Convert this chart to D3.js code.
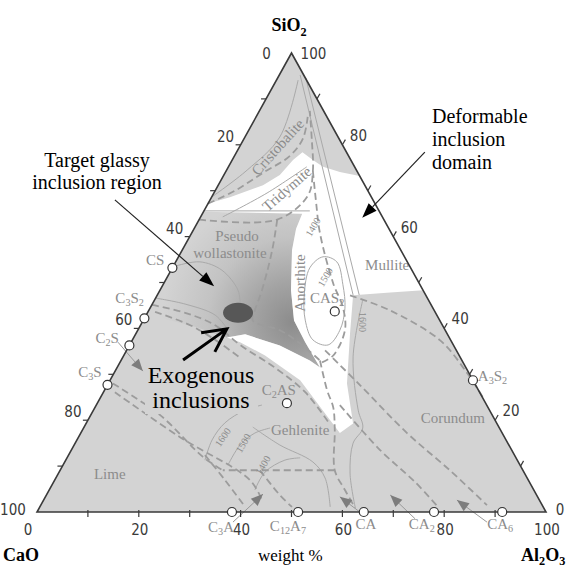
<!DOCTYPE html>
<html lang="en">
<head>
  <meta charset="UTF-8" />
  <title>CaO-SiO2-Al2O3 inclusion diagram</title>
  <script src="https://d3js.org/d3.v7.min.js"></script>
  <style>
    body { margin: 0; background: #fff; }
  </style>
</head>
<body>
  <svg id="chart" width="573" height="571"></svg>
  <script>
    // every composition is [Al2O3, SiO2] in wt%, CaO is the rest
    const ticks = [0, 10, 20, 30, 40, 50, 60, 70, 80, 90, 100];
    const tickLabels = [0, 20, 40, 60, 80, 100];

    const compounds = [
      { name: 'CS', c: [0, 53.2] },
      { name: 'C3S2', c: [0, 42.2] },
      { name: 'C2S', c: [0, 36.3] },
      { name: 'C3S', c: [0, 27.7] },
      { name: 'C3A', c: [38.3, 0] },
      { name: 'C12A7', c: [51.3, 0] },
      { name: 'CA', c: [64.2, 0] },
      { name: 'CA2', c: [78.0, 0] },
      { name: 'CA6', c: [91.4, 0] },
      { name: 'A3S2', c: [71.3, 28.7] },
      { name: 'CAS2', c: [36.65, 43.7] },
      { name: 'C2AS', c: [37.25, 23.7] }
    ];

    const compoundLabels = [
      { t: 'CS', c: [-4.25, 54.9] },
      { t: 'C3S2', c: [-5.1, 46.6] },
      { t: 'C2S', c: [-5.2, 38.0] },
      { t: 'C3S', c: [-4.85, 30.5] },
      { t: 'C3A', c: [37.8, -3.3] },
      { t: 'C12A7', c: [50.85, -3.1] },
      { t: 'CA', c: [65.9, -2.6] },
      { t: 'CA2', c: [76.9, -2.6] },
      { t: 'CA6', c: [92.3, -2.6] },
      { t: 'A3S2', c: [71.8, 29.6], anchor: 'start' },
      { t: 'CAS2', c: [33.7, 46.6] },
      { t: 'C2AS', c: [34.2, 26.6] }
    ];

    const phaseLabels = [
      { t: 'Cristobalite', c: [7.55, 79.5], r: -48 },
      { t: 'Tridymite', c: [13.9, 70.4], r: -41 },
      { t: 'Pseudo', c: [9.25, 60.1], r: 0 },
      { t: 'wollastonite', c: [9.7, 56.4], r: 0 },
      { t: 'Anorthite', c: [26.75, 49.9], r: -90 },
      { t: 'Mullite', c: [41.9, 53.8], r: 0 },
      { t: 'Corundum', c: [71.45, 20.5], r: 0 },
      { t: 'Gehlenite', c: [42.75, 17.9], r: 0 },
      { t: 'Lime', c: [10.15, 8.3], r: 0 }
    ];

    const isothermLabels = [
      { t: '1400', c: [23.15, 62.1], r: -60 },
      { t: '1500', c: [31, 51.2], r: -60 },
      { t: '1600', c: [43.3, 41.4], r: 90 },
      { t: '1600', c: [28.35, 16.3], r: -55 },
      { t: '1500', c: [33, 15], r: -60 },
      { t: '1400', c: [39.3, 10.2], r: -60 }
    ];

    // deformable inclusion domain (white)
    const deformable = [[0, 67.2], [3.6, 68.6], [8.8, 71.2], [11, 73.4], [11.95, 76.7], [12.95, 78.4],
      [15.85, 76.7], [18.6, 75.2], [22.45, 74.1], [26.8, 73.2], [51.7, 48.3], [45.5, 47.8], [38.5, 47.2],
      [42.05, 38.9], [46.9, 28.0], [52.45, 19.3], [50.9, 17.2], [47.6, 20], [37.35, 28.7], [27.75, 34.1],
      [21.4, 37], [18.3, 38], [21.55, 38.7], [29.55, 36.3], [37.1, 33], [39.85, 31.5], [34.2, 37],
      [29.65, 41.7], [25.75, 48.3], [21.6, 57], [20.05, 61.7], [19.6, 65], [0, 65.4]];

    // target glassy region (shaded)
    const glassy = [[0, 65.4], [19.6, 65], [20.05, 61.7], [21.6, 57], [25.75, 48.3], [29.65, 41.7],
      [34.2, 37], [39.85, 31.5], [37.1, 33], [29.55, 36.3], [21.55, 38.7], [18.3, 38], [9.75, 40.7], [0, 43]];

    const exogenous = { c: [17.8, 43.4] };

    const boundaries = [
      [[0, 67.2], [3.9, 70], [7.45, 73.9], [10.9, 77.6], [11.55, 81.5], [10.05, 86.3]],
      [[0, 63.7], [15.35, 63.7], [18.75, 68.9], [17.05, 74.3], [13.55, 80.9], [9.9, 87.4]],
      [[15.35, 63.7], [17.7, 57], [20.05, 48.3], [20.85, 43.9], [21.55, 41.7], [27.9, 39.6], [33.35, 36.7], [39.1, 33]],
      [[39.1, 33], [43.75, 26.5], [46.8, 22.8], [49.6, 17.8], [53.95, 9.1], [58.1, 4.8], [62.05, 0.9]],
      [[53.95, 9.1], [31.95, 9.1]],
      [[0.9, 28], [13.65, 21.1], [26.6, 12], [31.95, 9.1]],
      [[2.25, 26.1], [19.95, 16.3], [38.3, 7], [42.9, 2.6]],
      [[37.9, 47.2], [47.45, 43.9], [60.5, 37.4], [68.65, 30.9], [75.1, 25]],
      [[39, 35.2], [49.7, 27.6], [64.1, 17.2], [76.55, 9.1], [87.65, 1.5]],
      [[47.85, 23.3], [60.65, 13.5], [71.05, 6.5], [78.25, 1.1]],
      [[26.8, 12.4], [33.4, 7], [40.35, 1.1]],
      [[39.25, 9.1], [45.85, 3.7], [49.55, 1.1]],
      [[17.05, 74.3], [20.9, 67.8], [25.25, 60.7], [33.3, 49.8], [37.8, 44.6], [40.7, 39.6], [41.15, 34.1], [39.7, 32.6]],
      [[0.05, 45.1], [7.4, 43.4], [14.65, 40.7], [21.7, 36.4], [31.1, 31.4], [39.65, 26.1], [48.1, 19]],
      [[1.4, 43.6], [9.75, 40.7], [16.25, 37.5], [23.1, 33.6]]
    ];

    const isotherms = [
      [[4.1, 95.2], [38.45, 47.3]],
      [[5.5, 94.6], [39.65, 47.3]],
      [[0, 68.6], [4.05, 74.5], [6.85, 81.7], [4.25, 94.1]],
      [[0, 65.6], [20.8, 65.6]],
      [[4.35, 64.3], [10.45, 69.5], [15.4, 75.2]],
      [[40.9, 46.2], [45.2, 33.8], [52, 22.2], [54.85, 18.3], [54.6, 15], [57.25, 8.5], [61.95, 1.1]],
      [[0.5, 53.6], [4.75, 54.5], [9.95, 52.7], [15.35, 48.3], [17.35, 45.1]],
      [[0, 46.6], [6.45, 45.3], [13.55, 42.9], [17.65, 39.7]],
      [[27.35, 11.3], [26.55, 15.7], [27.2, 19.4], [29.8, 22.2], [32.55, 23.3]],
      [[32.4, 10.2], [32.6, 14.6], [34.2, 17.2], [36.65, 18.3]],
      [[40.4, 4.8], [40.45, 8.7], [43.05, 11.3], [45.8, 11.8]],
      [[33.15, 18.5], [40.4, 14.6], [48.75, 10.9], [52.9, 7.4], [57.05, 1.1]]
    ];

    const loop1500 = [[27, 53.2], [28.4, 55.6], [31.65, 54.5], [35.35, 49.5], [38.3, 44.4], [39.7, 39.6],
      [39, 36.4], [35.45, 37.5], [31.8, 41.8], [28.85, 47.3]];

    const crystArrows = [
      { from: [39.6, -2.2], to: [42.45, 3.9] },
      { from: [64.1, -0.4], to: [57.85, 3.3] },
      { from: [75.05, -1.5], to: [67.55, 3.7] },
      { from: [89.5, -2.2], to: [81.2, 2.6] },
      { from: [-2.6, 37.0], to: [5.45, 30.7] }
    ];

    const notes = [
      { lines: ['Target glassy', 'inclusion region'], x: 97, y: 167, anchor: 'middle', size: 20, gap: 22,
        from: [-18.7, 68], to: [10.2, 49.2] },
      { lines: ['Deformable', 'inclusion', 'domain'], x: 432, y: 123, anchor: 'start', size: 20, gap: 23,
        from: [37, 78.4], to: [31.85, 64.1] }
    ];

    const svg = d3.select('#chart');
    const serif = '"Liberation Serif", "Times New Roman", serif';
    const narrow = '"Liberation Sans Narrow", "DejaVu Sans Condensed", sans-serif';
    const baseGray = '#d3d3d3';

    const sx = d3.scaleLinear().domain([0, 100]).range([37, 546]);
    const sy = d3.scaleLinear().domain([0, 100]).range([512, 53]);
    const px = ([al, si]) => [sx(al + si / 2), sy(si)];

    const poly = d3.line().x(d => px(d)[0]).y(d => px(d)[1]).curve(d3.curveLinearClosed);
    const curve = d3.line().x(d => px(d)[0]).y(d => px(d)[1]).curve(d3.curveCatmullRom.alpha(0.5));
    const loop = d3.line().x(d => px(d)[0]).y(d => px(d)[1]).curve(d3.curveCatmullRomClosed.alpha(0.5));

    function rich(text, str, size, shift = 0.28) {
      let sub = false;
      str.match(/\d+|\D+/g).forEach(p => {
        const ts = text.append('tspan').text(p);
        if (/\d/.test(p)) {
          ts.attr('font-size', size * 0.68).attr('dy', size * shift);
          sub = true;
        } else if (sub) {
          ts.attr('dy', -size * shift);
          sub = false;
        }
      });
    }

    const defs = svg.append('defs');
    const grad = defs.append('radialGradient').attr('id', 'glassy')
      .attr('gradientUnits', 'userSpaceOnUse')
      .attr('cx', 292).attr('cy', 322).attr('r', 130);
    [[0, '#8c8c8c'], [0.3, '#a3a3a3'], [0.65, '#c3c3c3'], [1, baseGray]].forEach(([o, c]) => {
      grad.append('stop').attr('offset', o).attr('stop-color', c);
    });

    const corners = [[0, 0], [100, 0], [0, 100]];
    svg.append('path').attr('d', poly(corners)).attr('fill', baseGray);
    svg.append('path').attr('d', poly(glassy)).attr('fill', 'url(#glassy)');
    svg.append('path').attr('d', poly(deformable)).attr('fill', '#fff');

    svg.append('g').selectAll('path').data(isotherms).join('path')
      .attr('d', curve).attr('fill', 'none').attr('stroke', '#a9a9a9').attr('stroke-width', 1);
    svg.append('path').attr('d', loop(loop1500)).attr('fill', 'none')
      .attr('stroke', '#a9a9a9').attr('stroke-width', 1);
    svg.append('g').selectAll('path').data(boundaries).join('path')
      .attr('d', curve).attr('fill', 'none').attr('stroke', '#9c9c9c')
      .attr('stroke-width', 1.8).attr('stroke-dasharray', '7,4');

    // crystallisation arrows
    const ag = svg.append('g');
    crystArrows.forEach(a => {
      const [x1, y1] = px(a.from), [x2, y2] = px(a.to);
      const ang = Math.atan2(y2 - y1, x2 - x1);
      ag.append('line').attr('x1', x1).attr('y1', y1).attr('x2', x2).attr('y2', y2)
        .attr('stroke', '#999').attr('stroke-width', 1);
      const L = 12, W = 5;
      const bx = x2 - L * Math.cos(ang), by = y2 - L * Math.sin(ang);
      ag.append('path')
        .attr('d', `M${x2},${y2}L${bx - W * Math.sin(ang)},${by + W * Math.cos(ang)}L${bx + W * Math.sin(ang)},${by - W * Math.cos(ang)}Z`)
        .attr('fill', '#7d7d7d');
    });

    // exogenous inclusions
    const [ex, ey] = px(exogenous.c);
    svg.append('ellipse').attr('cx', ex).attr('cy', ey).attr('rx', 15).attr('ry', 10)
      .attr('fill', '#575757');

    // phase field names
    const lg = svg.append('g').attr('font-family', serif).attr('fill', '#8c8c8c');
    phaseLabels.forEach(d => {
      const [x, y] = px(d.c);
      lg.append('text').attr('transform', `translate(${x},${y}) rotate(${d.r})`)
        .attr('text-anchor', 'middle').attr('dominant-baseline', 'central')
        .attr('font-size', 15).text(d.t);
    });
    compoundLabels.forEach(d => {
      const [x, y] = px(d.c);
      const t = lg.append('text').attr('x', x).attr('y', y)
        .attr('text-anchor', d.anchor || 'middle').attr('dominant-baseline', 'central')
        .attr('font-size', 15);
      rich(t, d.t, 15);
    });
    isothermLabels.forEach(d => {
      const [x, y] = px(d.c);
      lg.append('text').attr('transform', `translate(${x},${y}) rotate(${d.r})`)
        .attr('text-anchor', 'middle').attr('dominant-baseline', 'central')
        .attr('font-size', 10).text(d.t);
    });

    // box behind the exogenous label
    svg.append('rect').attr('x', 145).attr('y', 362).attr('width', 113).attr('height', 52)
      .attr('fill', baseGray);
    svg.append('g').attr('font-family', serif).attr('font-size', 24).attr('text-anchor', 'middle')
      .selectAll('text').data(['Exogenous', 'inclusions']).join('text')
      .attr('x', 201).attr('y', (d, i) => 383 + i * 25).text(d => d);

    // triangle frame and ticks
    svg.append('path').attr('d', poly(corners)).attr('fill', 'none')
      .attr('stroke', '#3a3a3a').attr('stroke-width', 1.6);
    const tg = svg.append('g').attr('stroke', '#3a3a3a').attr('stroke-width', 1.2);
    ticks.slice(1, -1).forEach(v => {
      const [lx, ly] = px([0, 100 - v]);
      tg.append('line').attr('x1', lx).attr('y1', ly).attr('x2', lx - 5).attr('y2', ly);
      const [rx, ry] = px([100 - v, v]);
      tg.append('line').attr('x1', rx).attr('y1', ry).attr('x2', rx + 3).attr('y2', ry - 5.2);
      const [bx, by] = px([v, 0]);
      tg.append('line').attr('x1', bx).attr('y1', by - 2).attr('x2', bx).attr('y2', by + 5);
    });

    const kg = svg.append('g').attr('font-family', narrow).attr('font-size', 15)
      .attr('fill', '#3a3a3a').attr('text-anchor', 'middle').attr('dominant-baseline', 'central');
    tickLabels.forEach(v => {
      const [lx, ly] = px([0, 100 - v]);
      const lo = v === 0 ? [-25, 1] : v === 100 ? [-24, -2] : [-15, -8];
      kg.append('text').attr('x', lx + lo[0]).attr('y', ly + lo[1]).text(v);
      const [rx, ry] = px([100 - v, v]);
      const ro = v === 100 ? [22, 1] : v === 0 ? [14, -2] : [16, -9];
      kg.append('text').attr('x', rx + ro[0]).attr('y', ry + ro[1]).text(v);
      const [bx, by] = px([v, 0]);
      kg.append('text').attr('x', bx + (v === 0 ? -9 : 1)).attr('y', by + 18).text(v);
    });

    // compound points
    svg.append('g').selectAll('circle').data(compounds).join('circle')
      .attr('cx', d => px(d.c)[0]).attr('cy', d => px(d.c)[1]).attr('r', 4.5)
      .attr('fill', '#fff').attr('stroke', '#333').attr('stroke-width', 1.2);

    // annotations
    const ng = svg.append('g').attr('font-family', serif).attr('fill', '#000');
    notes.forEach(n => {
      n.lines.forEach((s, i) => {
        ng.append('text').attr('x', n.x).attr('y', n.y + i * n.gap)
          .attr('text-anchor', n.anchor).attr('font-size', n.size).text(s);
      });
      const [x1, y1] = px(n.from), [x2, y2] = px(n.to);
      const ang = Math.atan2(y2 - y1, x2 - x1);
      const L = 15, W = 5.5;
      const bx = x2 - L * Math.cos(ang), by = y2 - L * Math.sin(ang);
      ng.append('line').attr('x1', x1).attr('y1', y1).attr('x2', bx).attr('y2', by)
        .attr('stroke', '#222').attr('stroke-width', 1.2);
      ng.append('path')
        .attr('d', `M${x2},${y2}L${bx - W * Math.sin(ang)},${by + W * Math.cos(ang)}L${bx + W * Math.sin(ang)},${by - W * Math.cos(ang)}Z`)
        .attr('fill', '#000');
    });

    const exoArrow = { from: [12.15, 33.1], to: [17.35, 39.9] };
    const [ax1, ay1] = px(exoArrow.from), [ax2, ay2] = px(exoArrow.to);
    const back = Math.atan2(ay1 - ay2, ax1 - ax2);
    const wing = s => [ax2 + 26 * Math.cos(back + s), ay2 + 26 * Math.sin(back + s)];
    const w1 = wing(0.47), w2 = wing(-0.47);
    svg.append('path')
      .attr('d', `M${ax1},${ay1}L${ax2},${ay2}M${w1[0]},${w1[1]}L${ax2},${ay2}L${w2[0]},${w2[1]}`)
      .attr('fill', 'none').attr('stroke', '#000').attr('stroke-width', 3)
      .attr('stroke-linejoin', 'miter');

    // vertex names
    const vg = svg.append('g').attr('font-family', serif).attr('font-weight', 'bold').attr('font-size', 18);
    rich(vg.append('text').attr('x', 289).attr('y', 31).attr('text-anchor', 'middle'), 'SiO2', 18);
    vg.append('text').attr('x', 3).attr('y', 561).text('CaO');
    rich(vg.append('text').attr('x', 521).attr('y', 561), 'Al2O3', 18, 0.2);
    svg.append('text').attr('x', 258).attr('y', 561).attr('font-family', serif)
      .attr('font-size', 17).text('weight %');
  </script>
</body>
</html>
